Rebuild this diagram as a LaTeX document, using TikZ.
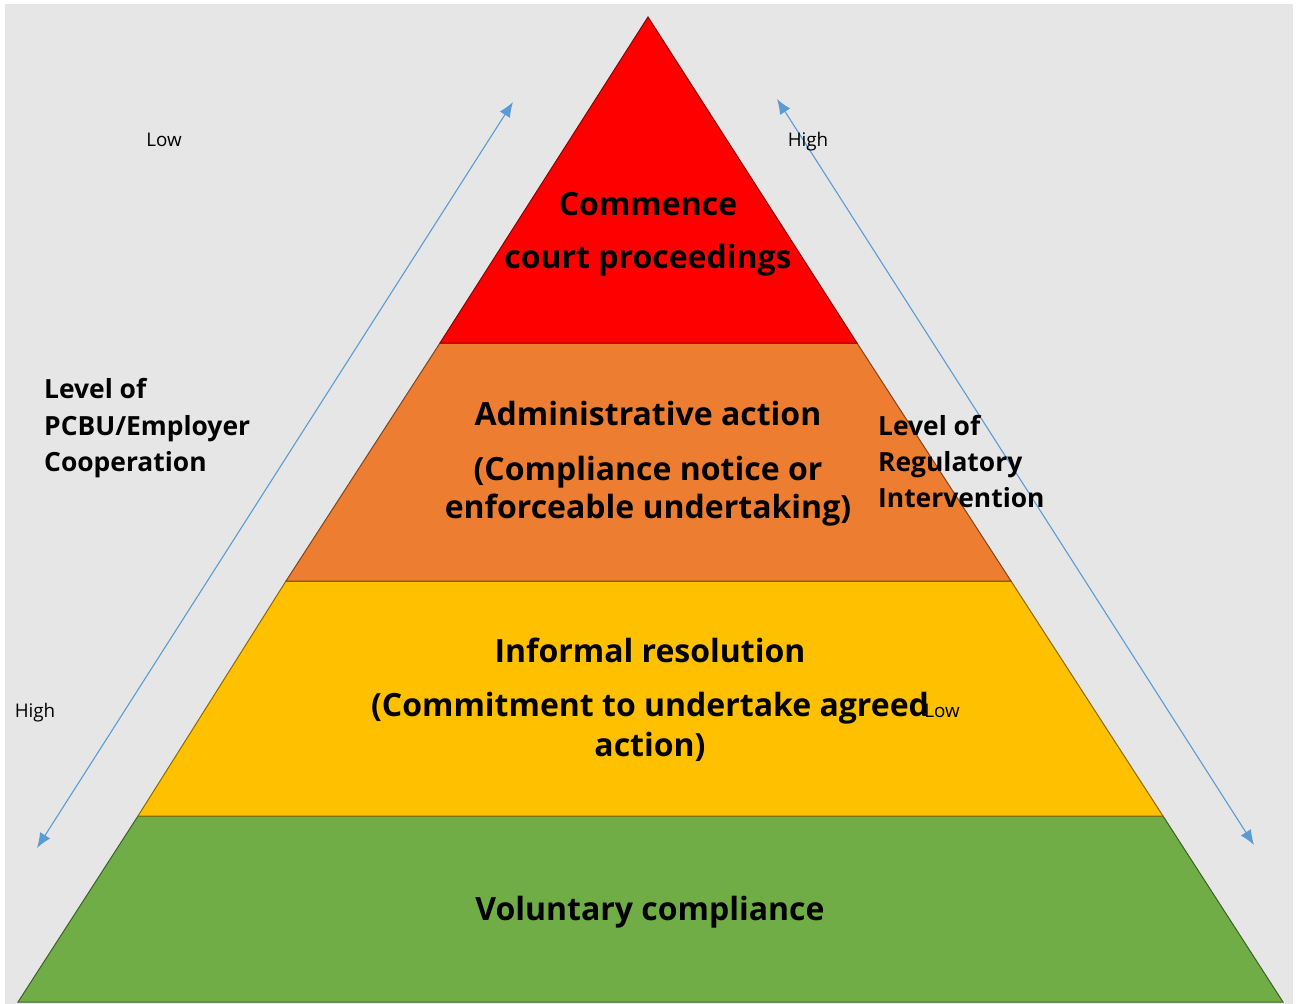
\documentclass[tikz,border=0pt]{standalone}
\usepackage{fontspec}
\setmainfont{Open Sans}
\usetikzlibrary{arrows.meta}
\definecolor{bgc}{HTML}{E6E6E6}
\definecolor{redc}{HTML}{FF0000}
\definecolor{orc}{HTML}{ED7D31}
\definecolor{yec}{HTML}{FFC000}
\definecolor{grc}{HTML}{70AD47}
\definecolor{arc}{HTML}{5B9BD5}
\tikzset{
  layer/.style={line width=1pt, line join=miter},
  big/.style={font=\fontsize{32}{38}\selectfont\bfseries, anchor=base, inner sep=0pt},
  side/.style={font=\fontsize{26.4}{36}\selectfont\bfseries, anchor=base west, inner sep=0pt},
  small/.style={font=\fontsize{18.8}{22}\selectfont, anchor=base, inner sep=0pt},
  dbl/.style={arc, line width=1.1pt, {Latex[length=15pt,width=12pt]}-{Latex[length=15pt,width=12pt]}}
}
\begin{document}
\begin{tikzpicture}[x=1pt,y=-1pt]
\useasboundingbox (0,0) rectangle (1299,1004);
\fill[white] (0,0) rectangle (1299,1004);
\fill[bgc] (5,4) rectangle (1293,1004);
% layers
\filldraw[layer, fill=grc, draw=grc!55!black] (138,816) -- (1163,816) -- (1283,1002) -- (18,1002) -- cycle;
\filldraw[layer, fill=yec, draw=yec!55!black] (286,581) -- (1011,581) -- (1163,816) -- (138,816) -- cycle;
\filldraw[layer, fill=orc, draw=orc!55!black] (440,343) -- (857,343) -- (1011,581) -- (286,581) -- cycle;
\filldraw[layer, fill=redc, draw=redc!55!black] (648,17) -- (857,343) -- (440,343) -- cycle;
% arrows
\coordinate (la) at (37,848);
\coordinate (lb) at (513,102);
\coordinate (ra) at (777,99);
\coordinate (rb) at (1254,845);
\draw[dbl] (la) -- (lb);
\draw[dbl] (ra) -- (rb);
% texts
\node[big] (t1) at (648,215) {Commence};
\node[big] (t2) at (648,268) {court proceedings};
\node[big] (t3) at (648,425) {Administrative action};
\node[big] (t4) at (648,480) {(Compliance notice or};
\node[big] (t5) at (648,518) {enforceable undertaking)};
\node[big] (t6) at (650,662) {Informal resolution};
\node[big] (t7) at (650,716) {(Commitment to undertake agreed};
\node[big] (t8) at (650,756) {action)};
\node[big] (t9) at (650,920) {Voluntary compliance};
\node[side] (l1) at (44,398) {Level of};
\node[side] (l2) at (44,435) {PCBU/Employer};
\node[side] (l3) at (44,471) {Cooperation};
\node[side] (r1) at (878,435) {Level of};
\node[side] (r2) at (878,471) {Regulatory};
\node[side] (r3) at (878,507) {Intervention};
\node[small] (s1) at (164,146) {Low};
\node[small] (s2) at (808,146) {High};
\node[small] (s3) at (35,717) {High};
\node[small] (s4) at (942,717) {Low};
\end{tikzpicture}
\end{document}
